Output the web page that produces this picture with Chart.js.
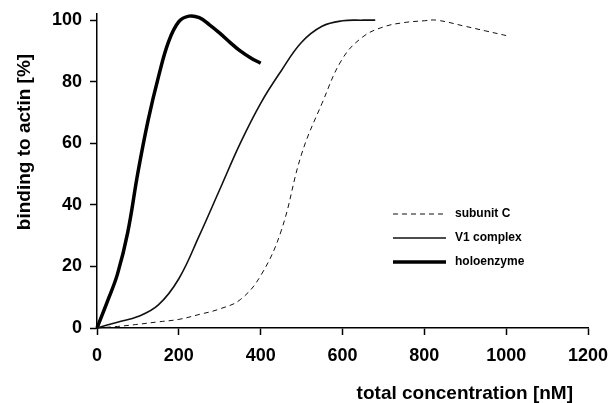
<!DOCTYPE html>
<html>
<head>
<meta charset="utf-8">
<script src="https://cdn.jsdelivr.net/npm/chart.js@4.4.1/dist/chart.umd.min.js"></script>
<style>
  html, body { margin: 0; padding: 0; background: #fff; }
</style>
</head>
<body>
<canvas id="chart-container" width="611" height="403"></canvas>
<script>
// series names, in legend order
const seriesNames = ['subunit C', 'V1 complex', 'holoenzyme'];

// subunit C (dashed)
const subunitX = [0, 50, 100, 150, 200, 250, 300, 350, 400, 450, 500, 550, 600, 650, 700, 750, 800, 830, 900, 950, 1000];
const subunitY = [0, 0.5, 1.2, 2, 2.8, 4.4, 6.2, 9.2, 17, 31.5, 56.5, 73, 87.5, 94.6, 97.8, 99.2, 99.8, 100, 98, 96.5, 95];

// V1 complex (thin line)
const v1X = [0, 50, 100, 150, 200, 250, 300, 350, 400, 450, 500, 550, 600, 650, 680];
const v1Y = [0, 1.9, 3.7, 7.5, 16, 30, 45, 60, 73, 83.5, 92.8, 98, 99.8, 100, 100];

// holoenzyme (thick line)
const holoX = [0, 25, 50, 75, 100, 125, 150, 175, 200, 225, 250, 275, 300, 325, 350, 375, 400];
const holoY = [0, 8.5, 17.5, 31, 50.5, 67.5, 81.5, 93, 99.5, 101.3, 100.8, 98.5, 95.8, 92.8, 90, 87.8, 86];

const xTickValues = [0, 200, 400, 600, 800, 1000, 1200];
const yTickValues = [0, 20, 40, 60, 80, 100];
const xTitle = 'total concentration [nM]';
const yTitle = 'binding to actin [%]';

const FONT = '"Liberation Sans", Arial, Helvetica, sans-serif';

function pts(xs, ys) {
    return xs.map((x, i) => ({ x: x, y: ys[i] }));
}

// axis titles + legend drawn inside the plot
const overlay = {
    id: 'overlay',
    afterDraw(chart) {
        const ctx = chart.ctx;
        ctx.save();
        ctx.fillStyle = '#000';
        ctx.font = 'bold 19px ' + FONT;
        // y title
        ctx.save();
        ctx.translate(25, 142);
        ctx.rotate(-Math.PI / 2);
        ctx.textAlign = 'center';
        ctx.textBaseline = 'middle';
        ctx.fillText(yTitle, 0, 0);
        ctx.restore();
        // x title
        ctx.textAlign = 'right';
        ctx.textBaseline = 'alphabetic';
        ctx.fillText(xTitle, 573, 399);

        // legend
        ctx.font = 'bold 12px ' + FONT;
        ctx.textAlign = 'left';
        ctx.textBaseline = 'middle';
        chart.data.datasets.forEach((ds, i) => {
            let y = 214 + i * 24;
            ctx.save();
            ctx.strokeStyle = ds.borderColor;
            ctx.lineWidth = ds.borderWidth;
            ctx.setLineDash(ds.borderDash || []);
            ctx.beginPath();
            ctx.moveTo(393, y);
            ctx.lineTo(446, y);
            ctx.stroke();
            ctx.restore();
            ctx.fillText(ds.label, 455, y);
        });
        ctx.restore();
    }
};

const canv = document.querySelector('#chart-container');
const chart = new Chart(canv, {
    type: 'line',
    data: {
        datasets: [
            {
                label: seriesNames[0],
                data: pts(subunitX, subunitY),
                borderColor: '#111',
                borderWidth: 1,
                borderDash: [5, 4],
                pointRadius: 0,
                tension: 0.4
            },
            {
                label: seriesNames[1],
                data: pts(v1X, v1Y),
                borderColor: '#111',
                borderWidth: 1.6,
                pointRadius: 0,
                tension: 0.4
            },
            {
                label: seriesNames[2],
                data: pts(holoX, holoY),
                borderColor: '#000',
                borderWidth: 3.5,
                pointRadius: 0,
                tension: 0.4
            }
        ]
    },
    options: {
        responsive: false,
        animation: false,
        clip: false,
        layout: { padding: { top: 14, right: 23, left: 0, bottom: 0 } },
        plugins: {
            legend: { display: false },
            tooltip: { enabled: false }
        },
        scales: {
            x: {
                type: 'linear',
                min: 0,
                max: 1200,
                afterBuildTicks: (s) => { s.ticks = xTickValues.map((v) => ({ value: v })); },
                afterFit: (s) => { s.height = 75; s.paddingLeft = 0; s.paddingRight = 0; },
                grid: { drawOnChartArea: false, drawTicks: true, tickLength: 7, tickWidth: 1.5, tickColor: '#000' },
                border: { display: true, color: '#000', width: 1.5 },
                ticks: {
                    color: '#000',
                    font: { family: FONT, size: 18, weight: 'bold' },
                    padding: 10,
                    maxRotation: 0,
                    callback: (v) => String(v)
                }
            },
            y: {
                min: 0,
                max: 102,
                afterBuildTicks: (s) => { s.ticks = yTickValues.map((v) => ({ value: v })); },
                afterFit: (s) => { s.width = 97; s.paddingTop = 0; s.paddingBottom = 0; },
                grid: { drawOnChartArea: false, drawTicks: true, tickLength: 7, tickWidth: 1.5, tickColor: '#000' },
                border: { display: true, color: '#000', width: 1.5 },
                ticks: {
                    color: '#000',
                    font: { family: FONT, size: 18, weight: 'bold' },
                    padding: 8,
                    callback: (v) => String(v)
                }
            }
        }
    },
    plugins: [overlay]
});
</script>
</body>
</html>
